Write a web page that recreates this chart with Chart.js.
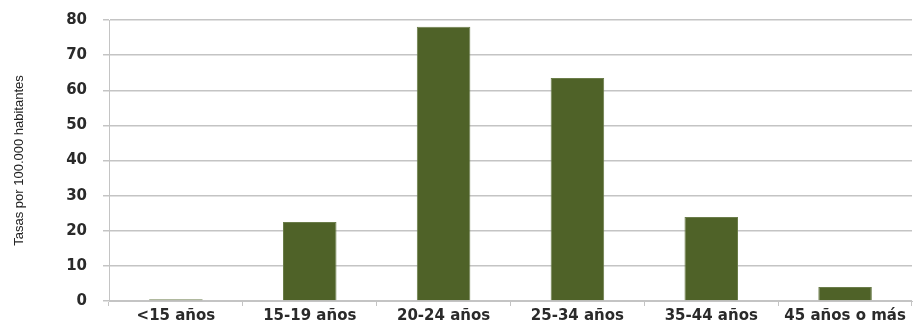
<!DOCTYPE html>
<html>
<head>
<meta charset="utf-8">
<script src="https://cdn.jsdelivr.net/npm/chart.js@4/dist/chart.umd.min.js"></script>
<style>
  html, body { margin: 0; padding: 0; background: #fff; }
  #wrap { width: 914px; height: 326px; position: relative; }
</style>
</head>
<body>
<div id="wrap"><canvas id="c"></canvas></div>
<script>
const categories = ['<15 años', '15-19 años', '20-24 años', '25-34 años', '35-44 años', '45 años o más'];
const rates = [0.5, 22.5, 78.1, 63.5, 23.9, 4.0];
const yTicks = [0, 10, 20, 30, 40, 50, 60, 70, 80];
const yTitle = 'Tasas por 100.000 habitantes';

new Chart(document.getElementById('c'), {
  type: 'bar',
  data: {
    labels: categories,
    datasets: [{
      data: rates,
      backgroundColor: '#4f6228',
      borderColor: '#6b7d4a',
      borderWidth: 1,
      categoryPercentage: 1,
      barPercentage: 0.4
    }]
  },
  options: {
    responsive: true,
    maintainAspectRatio: false,
    animation: false,
    layout: { padding: { top: 20, right: 2, left: 12, bottom: 0 } },
    plugins: { legend: { display: false }, tooltip: { enabled: false } },
    scales: {
      x: {
        grid: { display: true, drawOnChartArea: false, drawTicks: true, tickLength: 5, color: '#c4c4c4', offset: true },
        border: { color: '#c4c4c4' },
        ticks: { color: '#2a2a2a', font: { family: 'DejaVu Sans', size: 15, weight: 'bold' }, padding: 1, maxRotation: 0 },
        afterFit: s => { s.height = 25; }
      },
      y: {
        min: 0, max: 80,
        afterBuildTicks: s => { s.ticks = yTicks.map(v => ({ value: v })); },
        grid: { color: '#c4c4c4', lineWidth: 1.5, tickLength: 6, drawTicks: true },
        border: { color: '#c4c4c4' },
        ticks: { color: '#2a2a2a', font: { family: 'DejaVu Sans', size: 15, weight: 'bold' }, padding: 16 },
        title: { display: true, text: yTitle, color: '#222', font: { family: 'Liberation Sans Narrow, Liberation Sans', size: 13 }, padding: { top: 0, bottom: 0 } },
        afterFit: s => { s.width = 97; s.paddingTop = 0; s.paddingBottom = 0; }
      }
    }
  }
});
</script>
</body>
</html>
